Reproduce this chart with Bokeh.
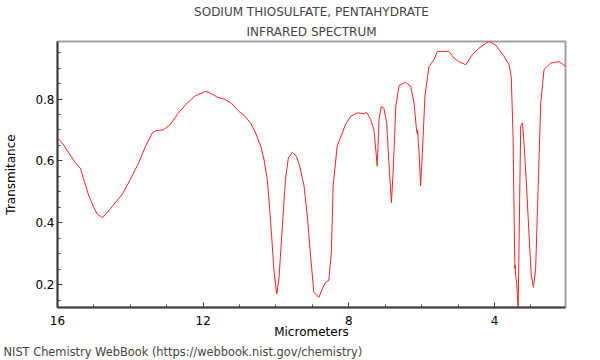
from bokeh.plotting import figure
from bokeh.models import Range1d, FixedTicker, Title
from bokeh.embed import file_html
from bokeh.resources import INLINE

# ---- data ----
wavelength_um = [
    16.00, 15.87, 15.69, 15.51, 15.37, 15.28, 15.14, 15.00, 14.91, 14.77,
    14.63, 14.45, 14.22, 14.00, 13.77, 13.58, 13.40, 13.31, 13.08, 12.90,
    12.71, 12.48, 12.21, 11.93, 11.80, 11.61, 11.43, 11.25, 11.02, 10.88,
    10.70, 10.56, 10.42, 10.33, 10.24, 10.18, 10.12, 10.06, 9.98, 9.92,
    9.83, 9.74, 9.66, 9.55, 9.44, 9.35, 9.23, 9.14, 9.05, 8.96,
    8.82, 8.73, 8.64, 8.55, 8.48, 8.43, 8.32, 8.18, 8.09, 7.95,
    7.77, 7.58, 7.51, 7.40, 7.31, 7.22, 7.17, 7.11, 7.04, 6.96,
    6.90, 6.83, 6.78, 6.71, 6.62, 6.44, 6.30, 6.21, 6.14, 6.12,
    6.11, 6.09, 6.07, 6.03, 5.98, 5.91, 5.80, 5.66, 5.57, 5.25,
    5.11, 4.98, 4.79, 4.61, 4.43, 4.24, 4.15, 3.97, 3.74, 3.60,
    3.54, 3.49, 3.46, 3.44, 3.43, 3.42, 3.39, 3.35, 3.31, 3.28,
    3.23, 3.19, 3.12, 3.05, 2.99, 2.93, 2.87, 2.80, 2.73, 2.64,
    2.46, 2.23, 2.04,
]
transmittance = [
    0.674, 0.658, 0.626, 0.594, 0.576, 0.540, 0.487, 0.449, 0.428, 0.417,
    0.433, 0.460, 0.492, 0.540, 0.594, 0.648, 0.690, 0.697, 0.701, 0.718,
    0.750, 0.782, 0.811, 0.825, 0.819, 0.806, 0.800, 0.789, 0.760, 0.748,
    0.723, 0.690, 0.648, 0.605, 0.540, 0.454, 0.358, 0.251, 0.170, 0.218,
    0.379, 0.540, 0.610, 0.628, 0.615, 0.583, 0.519, 0.422, 0.293, 0.175,
    0.159, 0.186, 0.207, 0.213, 0.304, 0.519, 0.648, 0.690, 0.718, 0.744,
    0.755, 0.753, 0.757, 0.734, 0.701, 0.583, 0.734, 0.776, 0.771, 0.723,
    0.594, 0.465, 0.573, 0.776, 0.844, 0.854, 0.841, 0.787, 0.700, 0.688,
    0.700, 0.660, 0.626, 0.519, 0.626, 0.809, 0.905, 0.927, 0.954, 0.954,
    0.932, 0.921, 0.911, 0.943, 0.964, 0.980, 0.986, 0.975, 0.938, 0.911,
    0.873, 0.680, 0.412, 0.251, 0.262, 0.230, 0.207, 0.120, 0.465, 0.712,
    0.723, 0.658, 0.519, 0.358, 0.229, 0.191, 0.251, 0.519, 0.787, 0.895,
    0.916, 0.921, 0.905,
]

x_major_ticks = [16, 12, 8, 4]
x_minor_ticks = [15, 14, 13, 11, 10, 9, 7, 6, 5, 3]
y_major_ticks = [0.2, 0.4, 0.6, 0.8]
y_minor_ticks = [0.15, 0.25, 0.3, 0.35, 0.45, 0.5, 0.55, 0.65, 0.7, 0.75, 0.85, 0.9, 0.95]

title_line1 = "SODIUM THIOSULFATE, PENTAHYDRATE"
title_line2 = "INFRARED SPECTRUM"
x_label = "Micrometers"
y_label = "Transmitance"
footer = "NIST Chemistry WebBook (https://webbook.nist.gov/chemistry)"

FONT = "DejaVu Sans"

p = figure(width=600, height=360, output_backend="svg", toolbar_location=None,
           title=None,
           x_range=Range1d(16, 2.05), y_range=Range1d(0.126, 0.986),
           min_border_left=57, min_border_right=35,
           min_border_top=40, min_border_bottom=53)

p.line(wavelength_um, transmittance, line_color="#ff2020", line_width=1)

p.grid.visible = False
p.background_fill_color = "white"
p.border_fill_color = "white"
p.outline_line_color = "#a0a0a0"
p.outline_line_width = 2

p.xaxis.ticker = FixedTicker(ticks=x_major_ticks, minor_ticks=x_minor_ticks)
p.yaxis.ticker = FixedTicker(ticks=y_major_ticks, minor_ticks=y_minor_ticks)

for ax in (p.xaxis, p.yaxis):
    ax.axis_line_color = "#404040"
    ax.axis_line_width = 2
    ax.major_tick_line_color = "#404040"
    ax.minor_tick_line_color = "#404040"
    ax.major_tick_in = 5
    ax.major_tick_out = 0
    ax.minor_tick_in = 3
    ax.minor_tick_out = 0
    ax.major_label_text_font = FONT
    ax.major_label_text_font_size = "12px"
    ax.major_label_text_color = "black"
    ax.axis_label_text_font = FONT
    ax.axis_label_text_font_size = "12px"
    ax.axis_label_text_font_style = "normal"
    ax.axis_label_text_color = "black"

p.xaxis.axis_label = x_label
p.yaxis.axis_label = y_label
p.xaxis.major_label_standoff = 8
p.xaxis.axis_label_standoff = -3
p.yaxis.major_label_standoff = 3
p.yaxis.axis_label_standoff = 14

# titles (first added sits closest to the plot)
p.add_layout(Title(text=title_line2, align="center", text_font=FONT,
                   text_font_size="12px", text_font_style="normal",
                   standoff=5), "above")
p.add_layout(Title(text=title_line1, align="center", text_font=FONT,
                   text_font_size="12px", text_font_style="normal",
                   standoff=4), "above")
# credit line under the axis label
p.add_layout(Title(text=footer, align="left", offset=-54, text_font=FONT,
                   text_font_size="11.4px", text_font_style="normal",
                   standoff=2), "below")

open("out.html", "w").write(file_html(p, INLINE))
